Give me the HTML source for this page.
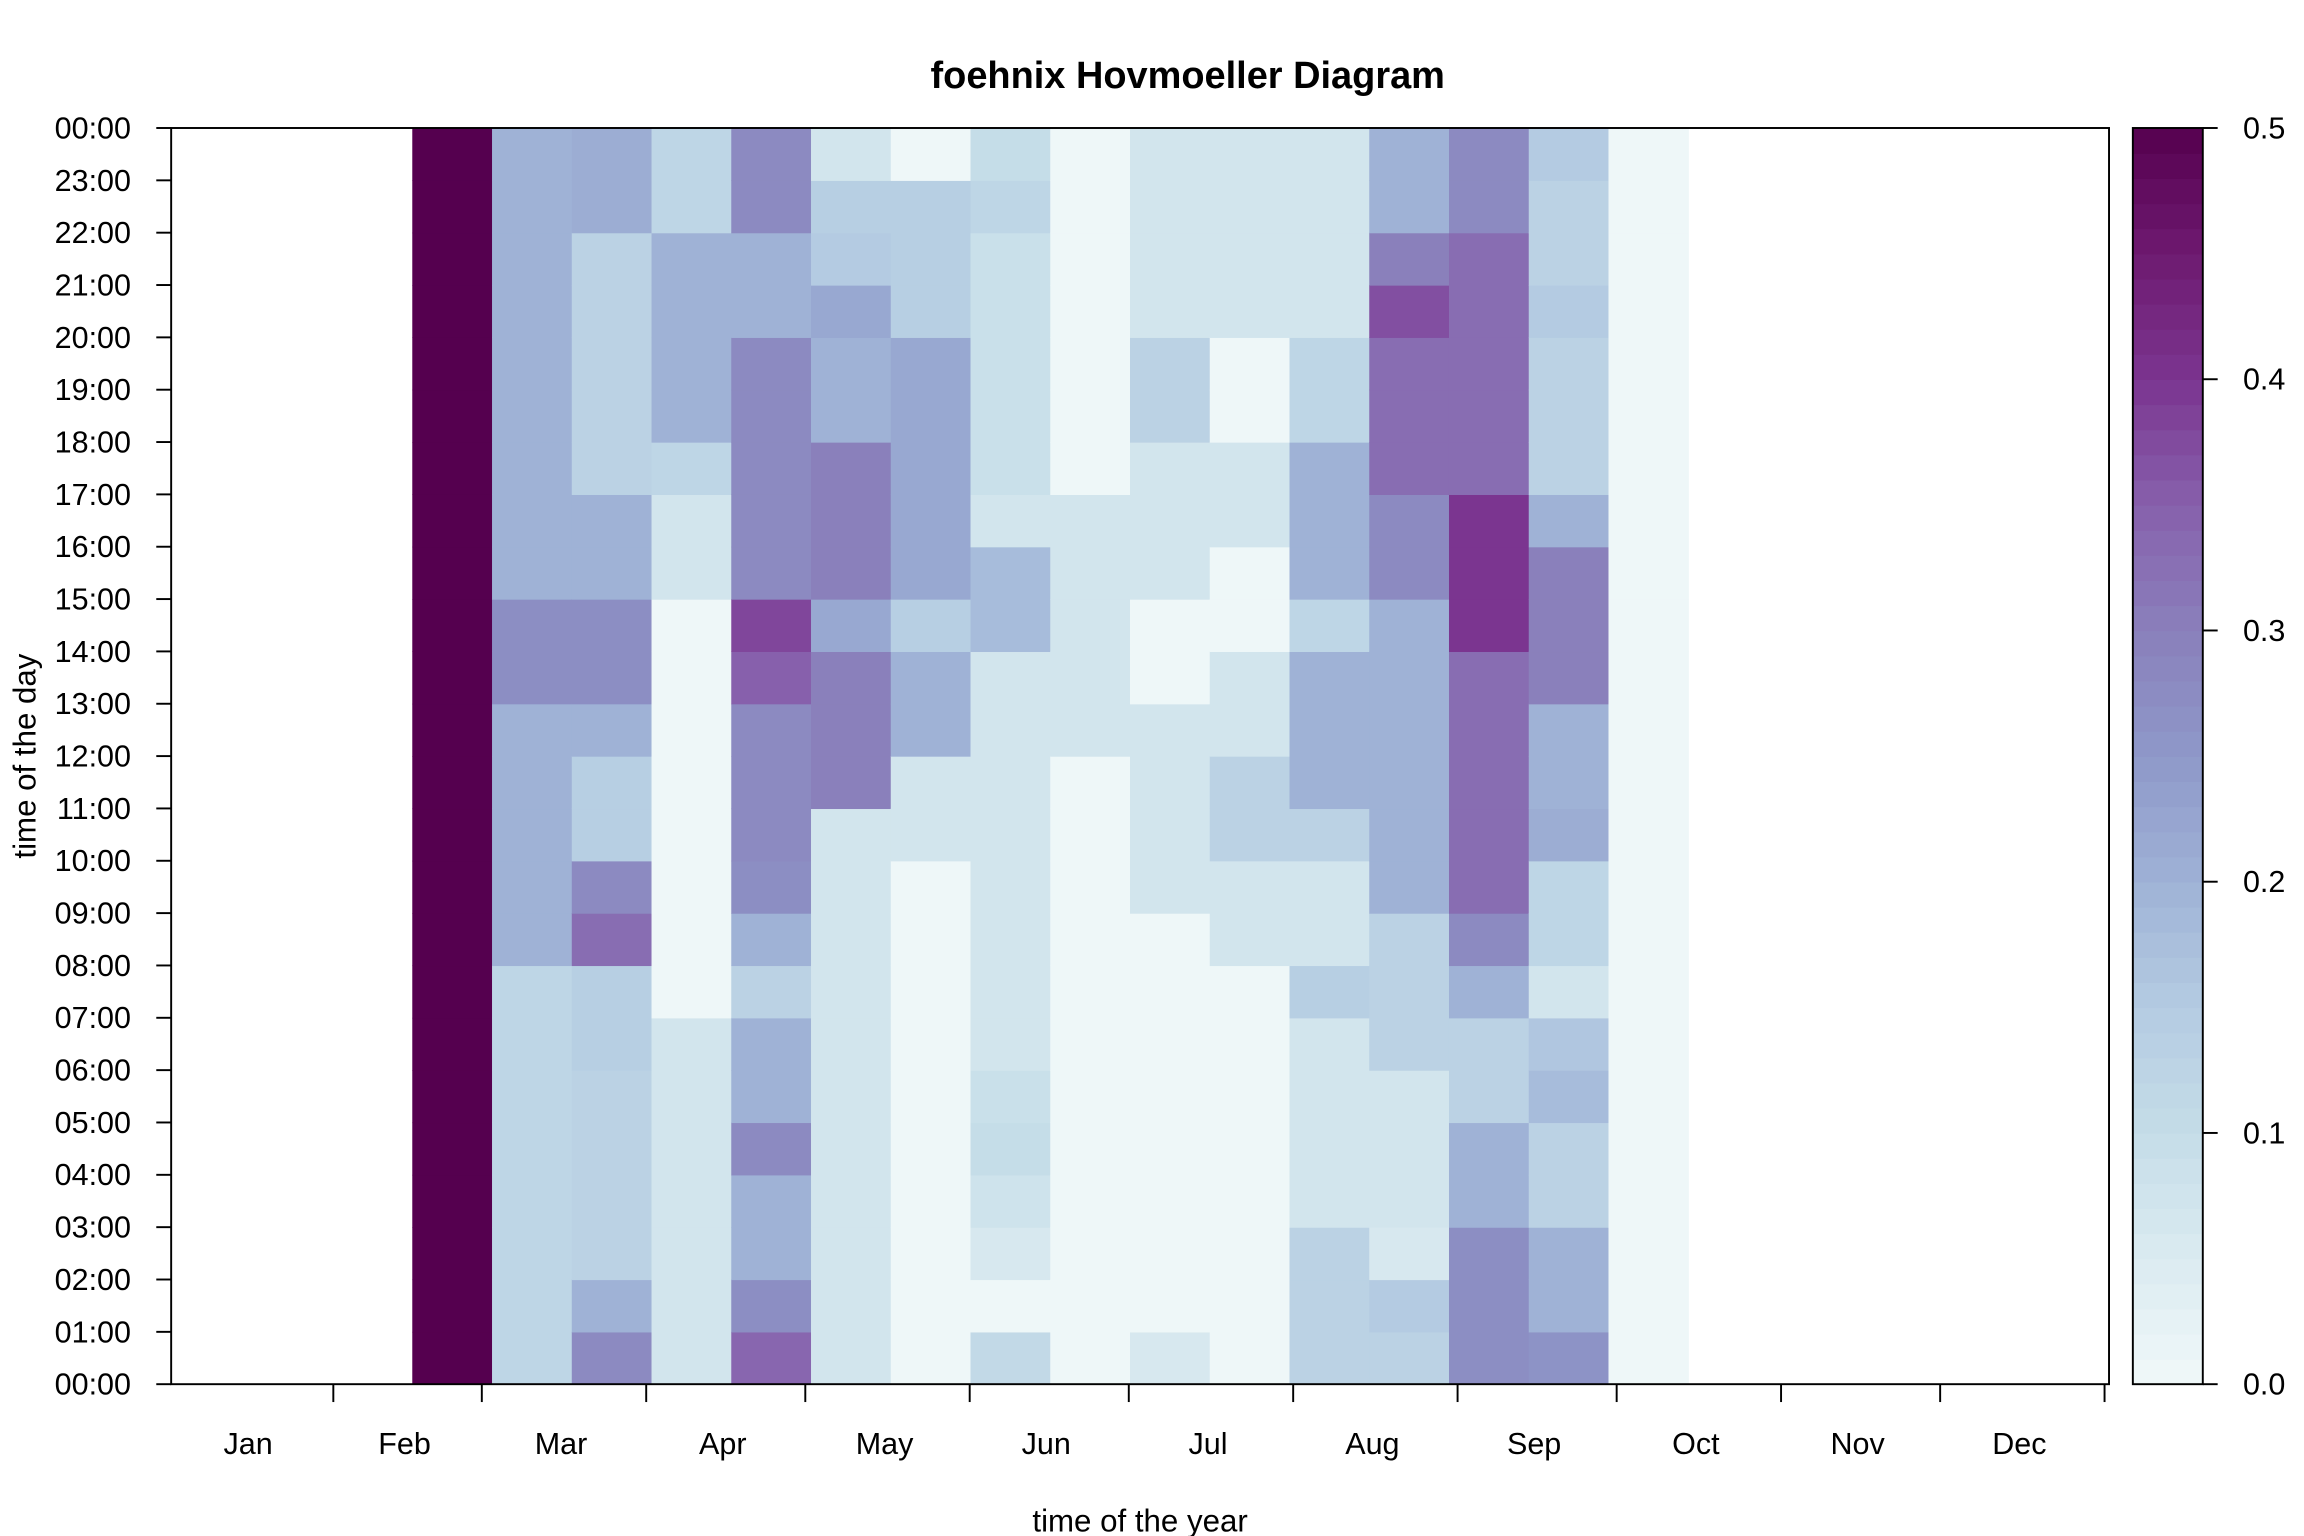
<!DOCTYPE html>
<html><head><meta charset="utf-8"><title>foehnix Hovmoeller Diagram</title>
<style>html,body{margin:0;padding:0;background:#fff}svg{display:block}text{font-family:"Liberation Sans",Arial,sans-serif;fill:#000}</style>
</head><body>
<svg id="chart" width="2304" height="1536" viewBox="0 0 1548 1032" preserveAspectRatio="none" xmlns="http://www.w3.org/2000/svg">
<text x="798" y="59" text-anchor="middle" font-size="25.5" font-weight="bold">foehnix Hovmoeller Diagram</text>
<g id="cells"></g>
<g id="axes"></g>
<g id="cbar"></g>
<text transform="translate(24,508) rotate(-90)" text-anchor="middle" font-size="21">time of the day</text>
<text x="766" y="1029" text-anchor="middle" font-size="21">time of the year</text>
</svg>
<script>
// Data: 16 semi-monthly periods (late Feb .. early Oct), each 24 hourly values (hour 0..23)
const months = ["Jan","Feb","Mar","Apr","May","Jun","Jul","Aug","Sep","Oct","Nov","Dec"];
const monthStartDays = [0,31,59,90,120,151,181,212,243,273,304,334,365];
const hourLabels = ["00:00","01:00","02:00","03:00","04:00","05:00","06:00","07:00","08:00","09:00","10:00","11:00","12:00","13:00","14:00","15:00","16:00","17:00","18:00","19:00","20:00","21:00","22:00","23:00","00:00"];
const colorbarTicks = [0,0.1,0.2,0.3,0.4,0.5];
const periodStartIndex = 3;
const p0 = [0.5,0.5,0.5,0.5,0.5,0.5,0.5,0.5,0.5,0.5,0.5,0.5,0.5,0.5,0.5,0.5,0.5,0.5,0.5,0.5,0.5,0.5,0.5,0.5];
const p1 = [0.12,0.12,0.12,0.12,0.12,0.12,0.12,0.12,0.2,0.2,0.2,0.2,0.2,0.27,0.27,0.2,0.2,0.2,0.2,0.2,0.2,0.2,0.2,0.2];
const p2 = [0.28,0.2,0.13,0.13,0.13,0.13,0.14,0.14,0.33,0.28,0.14,0.14,0.2,0.27,0.27,0.2,0.2,0.13,0.13,0.13,0.13,0.13,0.21,0.21];
const p3 = [0.07,0.07,0.07,0.07,0.07,0.07,0.07,0.005,0.005,0.005,0.005,0.005,0.005,0.005,0.005,0.07,0.07,0.12,0.2,0.2,0.2,0.2,0.12,0.12];
const p4 = [0.34,0.27,0.2,0.2,0.28,0.2,0.2,0.13,0.2,0.27,0.28,0.28,0.28,0.35,0.38,0.28,0.28,0.28,0.28,0.28,0.2,0.2,0.28,0.28];
const p5 = [0.07,0.07,0.07,0.07,0.07,0.07,0.07,0.07,0.07,0.07,0.07,0.3,0.3,0.3,0.22,0.3,0.3,0.3,0.2,0.2,0.22,0.15,0.14,0.07];
const p6 = [0.005,0.005,0.005,0.005,0.005,0.005,0.005,0.005,0.005,0.005,0.07,0.07,0.2,0.2,0.14,0.22,0.22,0.22,0.22,0.22,0.14,0.14,0.14,0.005];
const p7 = [0.11,0.005,0.06,0.08,0.1,0.09,0.07,0.07,0.07,0.07,0.07,0.07,0.07,0.07,0.18,0.18,0.07,0.09,0.09,0.09,0.09,0.09,0.12,0.1];
const p8 = [0.005,0.005,0.005,0.005,0.005,0.005,0.005,0.005,0.005,0.005,0.005,0.005,0.07,0.07,0.07,0.07,0.07,0.005,0.005,0.005,0.005,0.005,0.005,0.005];
const p9 = [0.06,0.005,0.005,0.005,0.005,0.005,0.005,0.005,0.005,0.07,0.07,0.07,0.07,0.005,0.005,0.07,0.07,0.07,0.13,0.13,0.07,0.07,0.07,0.07];
const p10 = [0.005,0.005,0.005,0.005,0.005,0.005,0.005,0.005,0.07,0.07,0.13,0.13,0.07,0.07,0.005,0.005,0.07,0.07,0.005,0.005,0.07,0.07,0.07,0.07];
const p11 = [0.13,0.13,0.13,0.07,0.07,0.07,0.07,0.14,0.07,0.07,0.13,0.2,0.2,0.2,0.12,0.2,0.2,0.2,0.12,0.12,0.07,0.07,0.07,0.07];
const p12 = [0.13,0.15,0.06,0.07,0.07,0.07,0.13,0.13,0.13,0.2,0.2,0.2,0.2,0.2,0.2,0.28,0.28,0.33,0.33,0.33,0.37,0.3,0.2,0.2];
const p13 = [0.27,0.27,0.27,0.2,0.2,0.13,0.13,0.2,0.28,0.33,0.33,0.33,0.33,0.33,0.4,0.4,0.4,0.33,0.33,0.33,0.33,0.33,0.28,0.28];
const p14 = [0.26,0.2,0.2,0.13,0.13,0.18,0.16,0.07,0.12,0.12,0.21,0.2,0.2,0.3,0.3,0.3,0.2,0.13,0.13,0.13,0.15,0.13,0.13,0.15];
const p15 = [0.005,0.005,0.005,0.005,0.005,0.005,0.005,0.005,0.005,0.005,0.005,0.005,0.005,0.005,0.005,0.005,0.005,0.005,0.005,0.005,0.005,0.005,0.005,0.005];
const periods = [p0,p1,p2,p3,p4,p5,p6,p7,p8,p9,p10,p11,p12,p13,p14,p15];

const NS = "http://www.w3.org/2000/svg";
const L=115,R=1417,T=86,B=930;
const rowH=(B-T)/24;
const periodW=(R-L)/24.3;
function xDay(d){return 113.5+3.563*d;}
function xPeriod(i){return 277+(i-periodStartIndex)*periodW;}
function yHour(h){return B-h*rowH;}
const stops=[[0,[240,248,249]],[0.05,[219,235,241]],[0.1,[197,221,232]],[0.15,[180,203,226]],[0.2,[159,178,214]],[0.25,[142,152,201]],[0.3,[138,128,187]],[0.35,[135,96,172]],[0.4,[123,53,144]],[0.45,[110,26,112]],[0.5,[85,0,79]]];
function color(v){v=Math.max(0,Math.min(0.5,v));for(let i=1;i<stops.length;i++){if(v<=stops[i][0]){const a=stops[i-1],b=stops[i];const t=(v-a[0])/(b[0]-a[0]);const c=a[1].map((x,k)=>Math.round(x+(b[1][k]-x)*t));return `rgb(${c[0]},${c[1]},${c[2]})`;}}return "rgb(85,0,79)";}
function el(tag,attrs,parent){const e=document.createElementNS(NS,tag);for(const k in attrs)e.setAttribute(k,attrs[k]);parent.appendChild(e);return e;}

const cells=document.getElementById('cells');
periods.forEach((vals,pi)=>{
  const i=pi+periodStartIndex;
  vals.forEach((v,h)=>{
    const x0=xPeriod(i),x1=xPeriod(i+1);
    const r=el('rect',{x:x0,y:yHour(h+1),width:x1-x0+0.4,height:rowH+0.4,fill:color(v)},cells);
    
    
  });
});

const axes=document.getElementById('axes');
const frame=el('rect',{x:L,y:T,width:R-L,height:B-T,fill:'none',stroke:'#000','stroke-width':1.3},axes);


hourLabels.forEach((lab,h)=>{
  const y=yHour(h);
  el('line',{x1:L-10,x2:L,y1:y,y2:y,stroke:'#000','stroke-width':1.3},axes);
  const t=el('text',{x:88,y:y+7,'text-anchor':'end','font-size':20.5},axes);
  t.textContent=lab;
  
  
});
monthStartDays.forEach((d,i)=>{
  if(i===0)return;
  const x=xDay(d);
  el('line',{x1:x,x2:x,y1:B,y2:B+12,stroke:'#000','stroke-width':1.3},axes);
});
months.forEach((m,i)=>{
  const x=(xDay(monthStartDays[i])+xDay(monthStartDays[i+1]))/2-2;
  const t=el('text',{x:x,y:977,'text-anchor':'middle','font-size':20.5},axes);
  t.textContent=m;
  
  
});

const cb=document.getElementById('cbar');
const CL=1433,CR=1480,n=50;
for(let k=0;k<n;k++){
  const v0=0.5*k/n;
  const y1=B-(B-T)*k/n, y0=B-(B-T)*(k+1)/n;
  el('rect',{x:CL,y:y0,width:CR-CL,height:y1-y0+0.5,fill:color(v0+0.005)},cb);
}
el('rect',{x:CL,y:T,width:CR-CL,height:B-T,fill:'none',stroke:'#000','stroke-width':1.3},cb);
colorbarTicks.forEach(v=>{
  const y=B-(B-T)*v/0.5;
  el('line',{x1:CR,x2:CR+10,y1:y,y2:y,stroke:'#000','stroke-width':1.3},cb);
  const t=el('text',{x:1507,y:y+7,'font-size':20.5},cb);
  t.textContent=v.toFixed(1);
  
  
});
</script>
</body></html>
